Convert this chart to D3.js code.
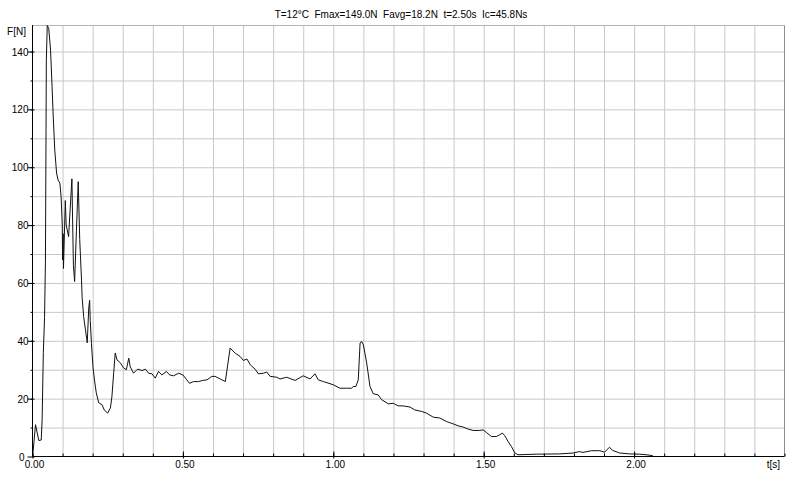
<!DOCTYPE html>
<html>
<head>
<meta charset="utf-8">
<script src="https://cdn.jsdelivr.net/npm/d3@7"></script>
<style>
  body { margin: 0; background: #fff; }
  svg { display: block; }
  text { font-family: "Liberation Sans", Arial, sans-serif; font-size: 10px; fill: #000; }
</style>
</head>
<body>
<div id="chart"></div>
<script>
// force curve: time in s, force in N
const times = [
  0.002, 0.010, 0.021, 0.029, 0.032, 0.036, 0.040, 0.043, 0.045, 0.046,
  0.049, 0.054, 0.060, 0.065, 0.069, 0.074, 0.080, 0.085, 0.091, 0.095,
  0.099, 0.100, 0.102, 0.103, 0.109, 0.112, 0.120, 0.131, 0.136, 0.140,
  0.146, 0.152, 0.157, 0.163, 0.165, 0.170, 0.176, 0.182, 0.187, 0.190,
  0.192, 0.196, 0.201, 0.206, 0.212, 0.220, 0.231, 0.239, 0.250, 0.259,
  0.264, 0.270, 0.275, 0.281, 0.292, 0.303, 0.312, 0.320, 0.325, 0.336,
  0.347, 0.351, 0.364, 0.375, 0.386, 0.397, 0.408, 0.419, 0.430, 0.445,
  0.456, 0.469, 0.486, 0.500, 0.513, 0.522, 0.535, 0.552, 0.566, 0.580,
  0.596, 0.607, 0.624, 0.641, 0.657, 0.674, 0.690, 0.701, 0.713, 0.724,
  0.740, 0.751, 0.768, 0.779, 0.790, 0.812, 0.823, 0.845, 0.873, 0.900,
  0.923, 0.939, 0.950, 0.967, 1.000, 1.022, 1.044, 1.061, 1.066, 1.075,
  1.083, 1.089, 1.094, 1.100, 1.111, 1.122, 1.133, 1.149, 1.161, 1.183,
  1.199, 1.216, 1.232, 1.255, 1.271, 1.293, 1.310, 1.332, 1.354, 1.376,
  1.398, 1.415, 1.431, 1.448, 1.465, 1.487, 1.498, 1.509, 1.526, 1.542,
  1.553, 1.562, 1.570, 1.581, 1.592, 1.603, 1.614, 1.675, 1.752, 1.797,
  1.819, 1.830, 1.858, 1.886, 1.902, 1.918, 1.929, 1.952, 1.985, 2.018,
  2.040, 2.062
];
const forces = [
  1.7, 11.0, 5.5, 5.7, 12.7, 36.0, 48.0, 67.0, 113.0, 137.0,
  149.0, 148.0, 140.5, 128.0, 117.4, 106.0, 98.0, 95.6, 94.5, 90.0,
  80.0, 68.0, 77.0, 65.0, 88.5, 80.0, 76.0, 96.0, 66.0, 60.5,
  78.0, 95.0, 75.0, 61.0, 55.0, 48.4, 43.8, 39.3, 51.4, 54.0,
  47.0, 39.0, 31.0, 26.5, 22.0, 18.6, 17.9, 16.0, 15.0, 16.8,
  20.7, 29.0, 35.8, 33.4, 32.4, 30.6, 30.0, 34.0, 31.0, 28.8,
  30.0, 30.2, 29.7, 30.2, 28.8, 28.6, 27.1, 29.4, 28.2, 29.4,
  28.2, 27.9, 28.8, 28.2, 26.5, 25.3, 25.9, 25.9, 26.3, 26.5,
  27.7, 27.7, 26.8, 25.9, 37.5, 35.7, 34.6, 33.2, 33.7, 31.7,
  30.2, 28.6, 28.8, 29.2, 27.7, 27.4, 26.8, 27.4, 26.3, 27.9,
  26.8, 28.6, 26.5, 25.9, 24.8, 23.6, 23.6, 23.6, 24.2, 24.2,
  26.5, 39.2, 39.8, 38.6, 32.3, 24.2, 21.7, 21.3, 19.6, 18.2,
  18.4, 17.5, 17.5, 17.1, 16.1, 15.6, 15.0, 13.6, 13.3, 12.1,
  11.3, 10.6, 10.2, 9.5, 9.0, 9.0, 9.2, 8.3, 6.9, 6.9,
  7.5, 8.1, 7.2, 5.2, 3.5, 1.3, 0.6, 0.8, 0.9, 1.2,
  1.7, 1.4, 2.0, 2.0, 1.5, 3.2, 2.1, 1.2, 0.9, 0.8,
  0.6, 0.3
];

const titleText = `T=12°C  Fmax=149.0N  Favg=18.2N  t=2.50s  Ic=45.8Ns`;
const xTicks = [0, 0.5, 1.0, 1.5, 2.0];
const yTicks = [0, 20, 40, 60, 80, 100, 120, 140];
const xGridStep = 0.1;
const yGridStep = 10;

const width = 800;
const height = 480;
const plotLeft = 32.5, plotRight = 784.5, plotTop = 25.5, plotBottom = 456.5;

const x = d3.scaleLinear().domain([0, 2.5]).range([plotLeft, plotRight]);
const y = d3.scaleLinear().domain([0, 149]).range([plotBottom, plotTop]);

const xGrid = d3.range(1, Math.round(2.5 / xGridStep)).map(i => +(i * xGridStep).toFixed(2));
const yGrid = d3.range(1, 15).map(i => i * yGridStep);

const svg = d3.select(`#chart`).append(`svg`)
  .attr(`width`, width)
  .attr(`height`, height);

// grid lines
svg.append(`g`)
  .attr(`transform`, `translate(0,${plotBottom})`)
  .call(d3.axisBottom(x).tickValues(xGrid).tickFormat(``).tickSize(-(plotBottom - plotTop)).tickSizeOuter(0))
  .call(g => g.select(`.domain`).remove())
  .call(g => g.selectAll(`.tick line`).attr(`stroke`, `#c8c8c8`));

svg.append(`g`)
  .attr(`transform`, `translate(${plotLeft},0)`)
  .call(d3.axisLeft(y).tickValues(yGrid).tickFormat(``).tickSize(-(plotRight - plotLeft)).tickSizeOuter(0))
  .call(g => g.select(`.domain`).remove())
  .call(g => g.selectAll(`.tick line`).attr(`stroke`, `#c8c8c8`));

// top and right border
svg.append(`line`)
  .attr(`x1`, plotLeft).attr(`x2`, plotRight).attr(`y1`, plotTop).attr(`y2`, plotTop)
  .attr(`stroke`, `#b4b4b4`);
svg.append(`line`)
  .attr(`x1`, plotRight).attr(`x2`, plotRight).attr(`y1`, plotTop).attr(`y2`, plotBottom)
  .attr(`stroke`, `#8c8c8c`);

// the curve
const line = d3.line()
  .x((d, i) => x(times[i]))
  .y(d => y(d));

svg.append(`path`)
  .datum(forces)
  .attr(`fill`, `none`)
  .attr(`stroke`, `#111`)
  .attr(`stroke-width`, 1)
  .attr(`stroke-linejoin`, `round`)
  .attr(`d`, line);

// x axis: minor ticks point up, labelled ticks cross the axis
const xAxis = svg.append(`g`)
  .attr(`transform`, `translate(0,${plotBottom})`)
  .call(d3.axisBottom(x).tickValues(d3.range(0, 26).map(i => i / 10)).tickFormat(``).tickSizeOuter(0))
  .call(g => g.selectAll(`.tick line`).attr(`y1`, -3).attr(`y2`, 0));
xAxis.select(`.domain`).attr(`stroke`, `#000`).attr(`d`, `M${plotLeft - 0.5},0H${plotRight}`);

svg.append(`g`)
  .attr(`transform`, `translate(0,${plotBottom})`)
  .call(d3.axisBottom(x).tickValues(xTicks).tickFormat(d3.format(`.2f`)).tickSizeOuter(0))
  .call(g => g.select(`.domain`).remove())
  .call(g => g.selectAll(`.tick line`).attr(`y1`, -5).attr(`y2`, 2))
  .call(g => g.selectAll(`.tick text`).attr(`y`, 4).attr(`dy`, `0.71em`).attr(`dx`, 1.5));

// y axis
const yAxis = svg.append(`g`)
  .attr(`transform`, `translate(${plotLeft},0)`)
  .call(d3.axisLeft(y).tickValues(yGrid).tickFormat(``).tickSize(2).tickSizeOuter(0));
yAxis.select(`.domain`).attr(`stroke`, `#000`).attr(`d`, `M0,${plotTop - 0.5}V${plotBottom + 0.5}`);

svg.append(`g`)
  .attr(`transform`, `translate(${plotLeft},0)`)
  .call(d3.axisLeft(y).tickValues(yTicks).tickSize(5).tickSizeOuter(0))
  .call(g => g.select(`.domain`).remove())
  .call(g => g.selectAll(`.tick line`).attr(`x1`, 2))
  .call(g => g.selectAll(`.tick text`).attr(`x`, -4).attr(`dy`, `0.35em`)
    .attr(`dx`, d => d === 0 ? -4 : 0));

svg.selectAll(`g`).attr(`font-size`, null).attr(`font-family`, null);

// labels
svg.append(`text`)
  .attr(`x`, 26).attr(`y`, 35)
  .attr(`text-anchor`, `end`)
  .text(`F[N]`);

svg.append(`text`)
  .attr(`x`, 780).attr(`y`, 468)
  .attr(`text-anchor`, `end`)
  .text(`t[s]`);

svg.append(`text`)
  .attr(`x`, 401).attr(`y`, 18)
  .attr(`text-anchor`, `middle`)
  .style(`white-space`, `pre`)
  .text(titleText);
</script>
</body>
</html>
